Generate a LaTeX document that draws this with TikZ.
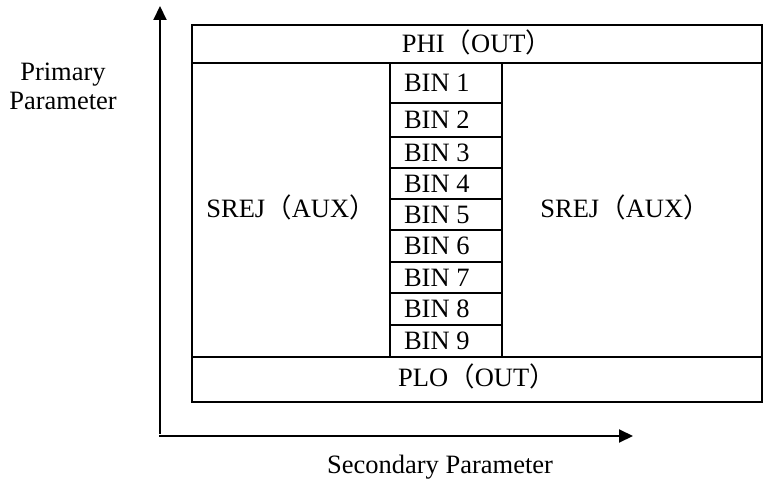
\documentclass[tikz,border=0pt]{standalone}
\usepackage{fontspec}
\setmainfont{Liberation Serif}
\newfontfamily\cjk{Noto Sans CJK SC}
\usetikzlibrary{arrows.meta}
\newcommand{\fwl}{{\cjk （}}
\newcommand{\fwr}{{\cjk ）}}

\begin{document}
\begin{tikzpicture}[x=0.5pt,y=-0.5pt,line width=1pt,
  lbl/.style={inner sep=0pt,font=\fontsize{13.25}{14.5}\selectfont},
  axis/.style={line width=1pt,-{Triangle[length=7pt,width=6.5pt]}}]

\useasboundingbox (0,0) rectangle (764,480);

% Axes
\coordinate (O) at (160,434);
\coordinate (Ytip) at (160,6);
\coordinate (Xstart) at (159,436);
\coordinate (Xtip) at (633,436);
\draw[axis] (O)--(Ytip);
\draw[axis] (Xstart)--(Xtip);
\node[lbl,align=center] (ylabel) at (63,86) {Primary\\Parameter};
\node[lbl,anchor=base] (xlabel) at (440,473) {Secondary Parameter};

% Frame with PHI and PLO rows
\draw (192,25) rectangle (762,402);
\draw (192,63)--(762,63);
\draw (192,357)--(762,357);
\node[lbl,anchor=base] (phi) at (477,53) {PHI\fwl OUT\fwr};
\node[lbl,anchor=base] (plo) at (477,386) {PLO\fwl OUT\fwr};

% Side regions
\node[lbl,anchor=base] (srejl) at (291,218) {SREJ\fwl AUX\fwr};
\node[lbl,anchor=base] (srejr) at (625,218) {SREJ\fwl AUX\fwr};

% Bin column
\draw (390,63)--(390,357);
\draw (502,63)--(502,357);
\foreach \i/\ya/\yb in {1/63/103,2/103/137,3/137/168,4/168/199,5/199/230,
  6/230/262,7/262/293,8/293/325,9/325/357}
{
\draw (390,\yb)--(502,\yb);
\node[lbl,anchor=west] (bin\i) at (403,{(\ya+\yb)/2}) {BIN \i};
}

\end{tikzpicture}
\end{document}
